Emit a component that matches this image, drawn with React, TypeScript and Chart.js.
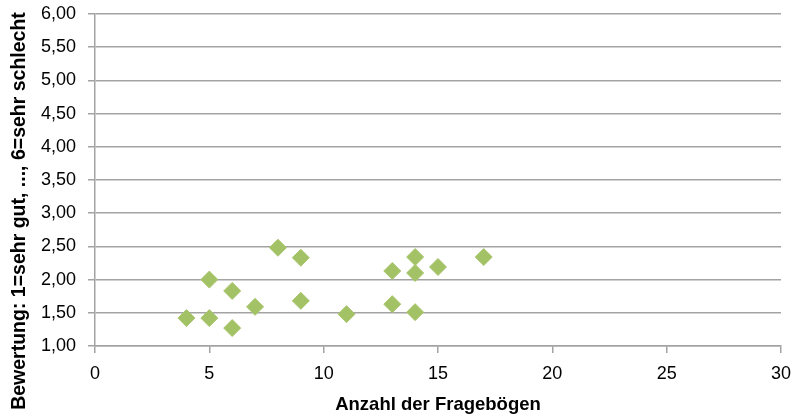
import React, { useEffect, useRef } from "react";
import { Chart, registerables } from "chart.js";

Chart.register(...registerables);

const anzahl = [4, 5, 5, 6, 6, 7, 8, 9, 9, 11, 13, 13, 14, 14, 14, 15, 17];
const bewertung = [1.42, 2.0, 1.42, 1.83, 1.27, 1.59, 2.48, 2.33, 1.68, 1.48, 2.13, 1.63, 2.34, 2.1, 1.51, 2.19, 2.34];
const xTitle = "Anzahl der Fragebögen";
const yTitle = "Bewertung: 1=sehr gut, ..., 6=sehr schlecht";

const GRID = "#a3a3a3";
const SANS = "'Liberation Sans', Arial, sans-serif";

const yTitlePlugin = {
  id: "yTitleFull",
  afterDraw(chart: any) {
    const ctx = chart.ctx;
    ctx.save();
    ctx.translate(20, 211);
    ctx.rotate(-Math.PI / 2);
    ctx.font = `bold 19.5px ${SANS}`;
    ctx.fillStyle = "#000";
    ctx.textAlign = "center";
    ctx.textBaseline = "middle";
    ctx.fillText(yTitle, 0, 0);
    ctx.restore();
  },
};

export default function App() {
  const ref = useRef<HTMLCanvasElement | null>(null);
  useEffect(() => {
    document.body.style.margin = "0";
    const ctx = ref.current!;
    const points = anzahl.map((x, i) => ({ x, y: bewertung[i] }));
    const chart = new Chart(ctx, {
      type: "scatter",
      data: {
        datasets: [
          {
            data: points,
            pointStyle: "rectRot",
            pointRadius: 8.5,
            pointHoverRadius: 8.5,
            backgroundColor: "#a3c266",
            borderColor: "#a8c56e",
            borderWidth: 1,
          },
        ],
      },
      plugins: [yTitlePlugin],
      options: {
        responsive: false,
        animation: false,
        layout: { padding: { left: 0, right: 13, top: 14, bottom: 0 } },
        plugins: { legend: { display: false }, tooltip: { enabled: false } },
        scales: {
          x: {
            type: "linear",
            min: 0,
            max: 30,
            ticks: { stepSize: 5, color: "#000", font: { family: SANS, size: 18 }, padding: 10 },
            grid: { drawOnChartArea: false, drawTicks: true, tickLength: 7, color: GRID, lineWidth: 1.5 },
            border: { color: GRID, width: 1.5 },
            title: { display: true, text: xTitle, color: "#000", font: { family: SANS, size: 18.5, weight: "bold" }, padding: { top: 2, bottom: 0 } },
            afterFit: (s: any) => { s.height = 70; s.paddingLeft = 0; s.paddingRight = 0; },
          },
          y: {
            type: "linear",
            min: 1,
            max: 6,
            ticks: {
              stepSize: 0.5,
              color: "#000",
              font: { family: SANS, size: 18 },
              padding: 12,
              callback: (v: any) => Number(v).toFixed(2).replace(".", ","),
            },
            grid: { drawOnChartArea: true, drawTicks: true, tickLength: 7, color: GRID, lineWidth: 1.5 },
            border: { color: GRID, width: 1.5 },
            afterFit: (s: any) => { s.width = 95; s.paddingTop = 0; s.paddingBottom = 0; },
          },
        },
      },
    } as any);
    return () => chart.destroy();
  }, []);
  return (
    <div style={{ width: 794, height: 416 }}>
      <canvas ref={ref} width={794} height={416} />
    </div>
  );
}
